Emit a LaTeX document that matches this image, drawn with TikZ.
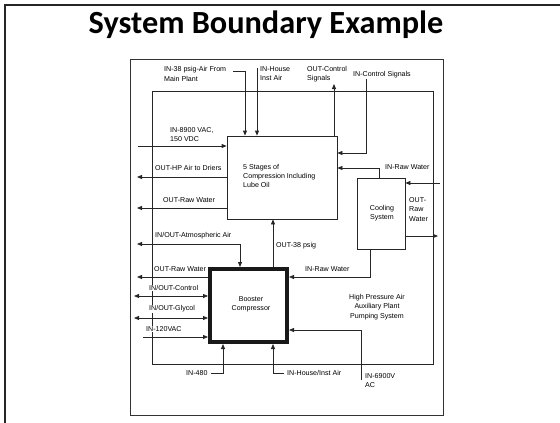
\documentclass[tikz,border=0pt]{standalone}
\usepackage{fontspec}
\usetikzlibrary{arrows.meta}
\newfontfamily\dfont{Liberation Sans}
\newfontfamily\tfont{Carlito}
\tikzset{
  lbl/.style={inner sep=0pt, font=\dfont\fontsize{7.1}{9.3}\selectfont, align=left},
  lblw/.style={lbl, fill=white, inner sep=0.6pt},
  box/.style={draw=black!85, line width=0.8pt, inner sep=0pt},
  conn/.style={draw=black!85, line width=0.8pt},
  arr/.style={conn, -{Triangle[length=5pt,width=4pt]}},
  dbl/.style={conn, {Triangle[length=5pt,width=4pt]}-{Triangle[length=5pt,width=4pt]}}
}
\begin{document}
\begin{tikzpicture}[x=1pt,y=-1pt]
\useasboundingbox (0,0) rectangle (560,423);
% slide border
\draw[line width=2.2pt, black!85] (5,423) -- (5,5) -- (560,5);
\node[anchor=base, inner sep=0pt, font=\tfont\bfseries\fontsize{32.3}{36}\selectfont] (title) at (266,33) {System Boundary Example};
% image frame
\node[draw=black!80, line width=0.9pt, minimum width=313pt, minimum height=356pt, inner sep=0pt] (frame) at (286.5,237) {};
% system boundary
\node[box, minimum width=281pt, minimum height=273pt] (boundary) at (292.5,227.5) {};
% boxes
\node[box, minimum width=110pt, minimum height=83pt] (stages) at (282,177.5) {};
\node[lbl, anchor=north west] (stagestxt) at (243,164) {5 Stages of\\Compression Including\\Lube Oil};
\node[box, minimum width=48pt, minimum height=71pt] (cooling) at (381,213.5) {};
\node[lbl, align=center] (coolingtxt) at (382,213) {Cooling\\System};
\node[draw=black!90, line width=4pt, minimum width=77pt, minimum height=73pt, inner sep=0pt] (booster) at (248.5,305.5) {};
\node[lbl, align=center] (boostertxt) at (251,304) {Booster\\Compressor};
\node[lbl, align=center] (hpa) at (377,307) {High Pressure Air\\Auxiliary Plant\\Pumping System};
% labels
\node[lbl, anchor=north west] (l38) at (164,66.5) {IN-38 psig-Air From\\Main Plant};
\node[lbl, anchor=north west] (lhouse) at (260,66.5) {IN-House\\Inst Air};
\node[lbl, anchor=north west] (loc) at (307,66) {OUT-Control\\Signals};
\node[lbl, anchor=west] (lic) at (353,75) {IN-Control Signals};
\node[lbl, anchor=north west] (l89) at (170,127.5) {IN-8900 VAC,\\150 VDC};
\node[lbl, anchor=west] (lhp) at (155,168) {OUT-HP Air to Driers};
\node[lbl, anchor=west] (lrw1) at (385,167) {IN-Raw Water};
\node[lbl, anchor=north west] (lrwo) at (409,197.5) {OUT-\\Raw\\Water};
\node[lbl, anchor=west] (lrw2) at (163,200) {OUT-Raw Water};
\node[lbl, anchor=west] (latm) at (155,236) {IN/OUT-Atmospheric Air};
\node[lbl, anchor=west] (l38p) at (276,246) {OUT-38 psig};
\node[lbl, anchor=west] (lrw3) at (154,269) {OUT-Raw Water};
\node[lbl, anchor=west] (lrw4) at (305,269) {IN-Raw Water};
\node[lblw, anchor=west] (lctl) at (148.4,288) {IN/OUT-Control};
\node[lblw, anchor=west] (lgly) at (148.4,309) {IN/OUT-Glycol};
\node[lblw, anchor=west] (l120) at (145.4,329) {IN-120VAC};
\node[lbl, anchor=west] (l480) at (186,373) {IN-480};
\node[lbl, anchor=west] (lhi) at (287,373) {IN-House/Inst Air};
\node[lbl, anchor=north west] (l69) at (365,373.5) {IN-6900V\\AC};
% coordinates
\coordinate (c38) at (233,71);
\coordinate (c38b) at (245,71);
\coordinate (chouse) at (257,68);
\coordinate (coc) at (334,84);
\coordinate (cic) at (366,79);
\coordinate (cicy) at (366,153);
\coordinate (c89) at (138,146);
\coordinate (chp) at (137,177);
\coordinate (crw1) at (379,168);
\coordinate (crin) at (440,183);
\coordinate (crout) at (438,236);
\coordinate (crw2) at (137,208);
\coordinate (catm) at (137,244);
\coordinate (catm2) at (240,244);
\coordinate (c38p) at (273,240);
\coordinate (crw3) at (137,277);
\coordinate (crw4) at (370,277);
\coordinate (cctl) at (134,296);
\coordinate (cgly) at (134,318);
\coordinate (c120) at (143,337);
\coordinate (c480) at (211,373);
\coordinate (c480b) at (223,373);
\coordinate (chi) at (284,373);
\coordinate (chib) at (273,373);
\coordinate (c69) at (361,380);
\coordinate (c69b) at (361,330);
% connectors
\draw[arr] (c38) -- (c38b) -- (c38b |- stages.north);
\draw[arr] (chouse) -- (chouse |- stages.north);
\draw[arr] (coc |- stages.north) -- (coc);
\draw[arr] (cic) -- (cicy) -- (cicy -| stages.east);
\draw[arr] (c89) -- (c89 -| stages.west);
\draw[arr] (chp -| stages.west) -- (chp);
\draw[arr] (crw1 |- cooling.north) -- (crw1) -- (crw1 -| stages.east);
\draw[arr] (crin) -- (crin -| cooling.east);
\draw[arr] (crout -| cooling.east) -- (crout);
\draw[arr] (crw2 -| stages.west) -- (crw2);
\draw[dbl] (catm) -- (catm2) -- (catm2 |- booster.north);
\draw[arr] (c38p |- booster.north) -- (c38p |- stages.south);
\draw[arr] (crw3 -| booster.west) -- (crw3);
\draw[arr] (crw4 |- cooling.south) -- (crw4) -- (crw4 -| booster.east);
\draw[dbl] (cctl) -- (cctl -| booster.west);
\draw[dbl] (cgly) -- (cgly -| booster.west);
\draw[arr] (c120) -- (c120 -| booster.west);
\draw[arr] (c480) -- (c480b) -- (c480b |- booster.south);
\draw[arr] (chi) -- (chib) -- (chib |- booster.south);
\draw[arr] (c69) -- (c69b) -- (c69b -| booster.east);
\end{tikzpicture}
\end{document}
